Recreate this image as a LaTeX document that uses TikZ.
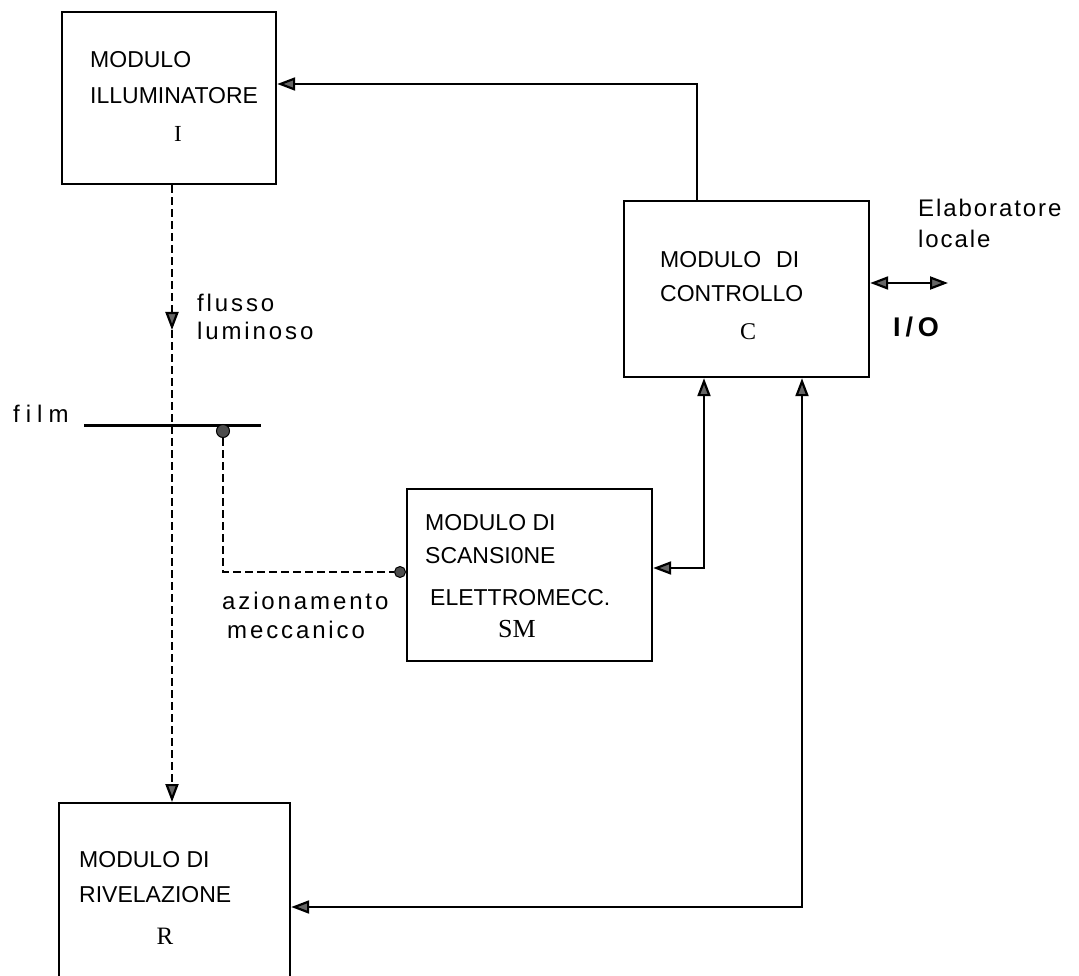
\documentclass[tikz,border=0pt]{standalone}
\usepackage{fontspec}
\usetikzlibrary{arrows.meta}
\newfontfamily\bxf{Liberation Sans}
\newfontfamily\lblf[LetterSpace=12]{Liberation Sans}
\newfontfamily\elf[LetterSpace=8]{Liberation Sans}
\newfontfamily\filmf[LetterSpace=25]{Liberation Sans}
\newfontfamily\iof[LetterSpace=18]{Liberation Sans}
\newfontfamily\serf{Liberation Serif}
\tikzset{
 box/.style={draw, line width=2.2pt, inner sep=0pt, anchor=north west},
 btxt/.style={inner sep=0pt, anchor=base west, font=\bxf\fontsize{23}{23}\selectfont},
 ltxt/.style={inner sep=0pt, anchor=base west, font=\lblf\fontsize{24}{24}\selectfont},
 stxt/.style={inner sep=0pt, anchor=base},
 arw/.tip={Triangle[length=18pt,width=13pt,fill=black!60]},
 conn/.style={line width=2.2pt},
 dashline/.style={line width=2.2pt, dash pattern=on 8pt off 4pt},
 dot/.style={circle, fill=black!70, draw, line width=1pt, inner sep=0pt, minimum size=13pt},
}
\begin{document}
\begin{tikzpicture}[x=1pt,y=-1pt]
\useasboundingbox (0,0) rectangle (1079,976);
\clip (0,0) rectangle (1079,976);
% boxes
\node[box, minimum width=214pt, minimum height=172pt] (I) at (61,11) {};
\node[box, minimum width=245pt, minimum height=176pt] (C) at (623,200) {};
\node[box, minimum width=245pt, minimum height=172pt] (SM) at (406,488) {};
\node[box, minimum width=231pt, minimum height=200pt] (R) at (58,802) {};
% box texts
\node[btxt] (tI1) at (90,68) {MODULO};
\node[btxt] (tI2) at (90,104) {ILLUMINATORE};
\node[stxt, font=\serf\fontsize{23}{23}\selectfont] (tI3) at (178,142) {I};
\node[btxt] (tC1) at (660,268) {MODULO\hspace{15pt}DI};
\node[btxt] (tC2) at (660,302) {CONTROLLO};
\node[stxt, font=\serf\fontsize{24}{24}\selectfont] (tC3) at (748,339) {C};
\node[btxt] (tS1) at (425,530) {MODULO DI};
\node[btxt] (tS2) at (425,563) {SCANSI0NE};
\node[btxt] (tS3) at (430,605) {ELETTROMECC.};
\node[stxt, font=\serf\fontsize{26}{26}\selectfont] (tS4) at (517,637) {SM};
\node[btxt] (tR1) at (79,867) {MODULO DI};
\node[btxt] (tR2) at (79,902) {RIVELAZIONE};
\node[stxt, font=\serf\fontsize{25}{25}\selectfont] (tR3) at (165,944) {R};
% free labels
\node[inner sep=0pt, anchor=base west, font=\elf\fontsize{24}{24}\selectfont] (el1) at (918,217) {Elaboratore};
\node[inner sep=0pt, anchor=base west, font=\elf\fontsize{24}{24}\selectfont] (el2) at (918,248) {locale};
\node[inner sep=0pt, anchor=base west, font=\iof\bfseries\fontsize{27}{27}\selectfont] (io) at (893,337) {I/O};
\node[ltxt] (fl1) at (197,312) {flusso};
\node[ltxt] (fl2) at (197,340) {luminoso};
\node[inner sep=0pt, anchor=base west, font=\filmf\fontsize{24}{24}\selectfont] (film) at (13,422) {film};
\node[ltxt] (az1) at (222,609) {azionamento};
\node[ltxt] (az2) at (227,638) {meccanico};
% connectors
\draw[conn, -{arw}] ([xshift=74pt]C.north west) |- ([yshift=-73pt]I.north east);
\coordinate (ioend) at (948,283);
\draw[conn, {arw}-{arw}] ([yshift=-83pt]C.north east) -- (ioend);
\draw[conn, {arw}-{arw}] ([yshift=-80pt]SM.north east) -| ([xshift=81pt]C.south west);
\draw[conn, {arw}-{arw}] ([yshift=-105pt]R.north east) -| ([xshift=179pt]C.south west);
% light flow
\coordinate (flmid) at (172,330);
\draw[dashline, -{arw}] ([xshift=111pt]I.south west) -- (flmid);
\draw[dashline, -{arw}] (flmid) -- (flmid |- R.north);
% film
\coordinate (fa) at (84,425);
\coordinate (fb) at (261,425);
\draw[line width=3pt] (fa) -- (fb);
\node[dot] (fdot) at (223,431) {};
\node[dot, minimum size=11pt] (sdot) at (400,572) {};
\draw[dashline] (fdot.south) |- (sdot.west);
\end{tikzpicture}
\end{document}
